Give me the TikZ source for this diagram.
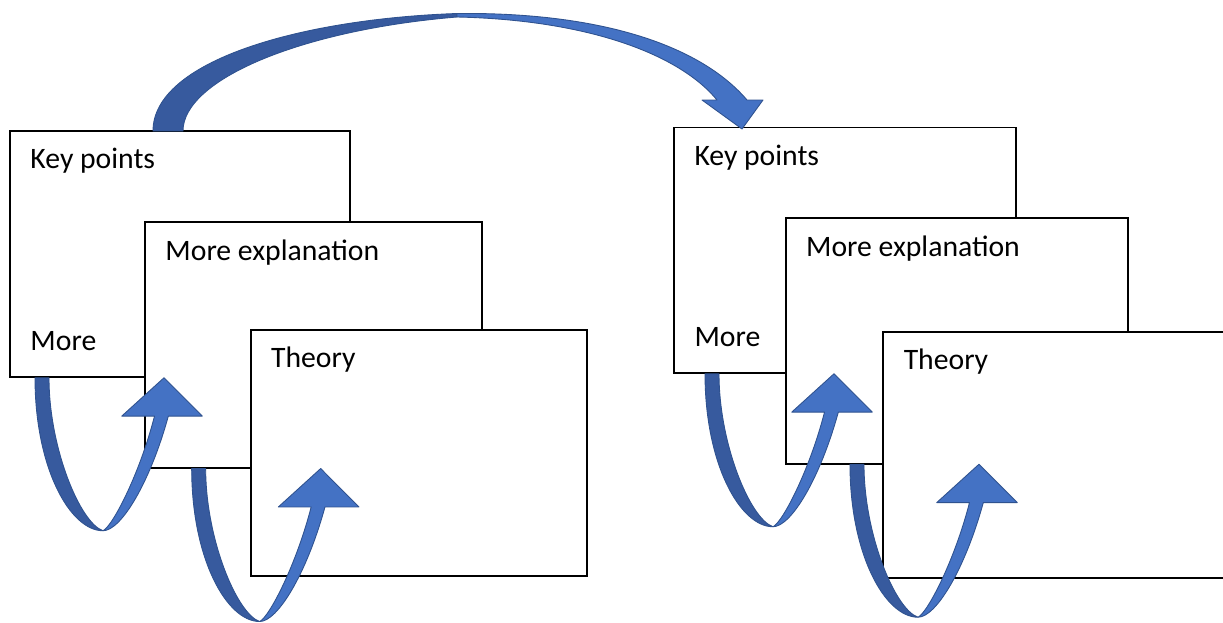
\documentclass[tikz,border=0pt]{standalone}
\usepackage{fontspec}
\setmainfont{Carlito}
\usetikzlibrary{positioning,calc}
\definecolor{arrowfront}{HTML}{4472C4}
\definecolor{arrowback}{HTML}{375A9E}
\definecolor{arrowedge}{HTML}{2F528F}

\tikzset{
  page/.style={rectangle, draw=black, fill=white, line width=1.1pt,
    inner sep=0pt, outer sep=0pt, minimum height=4.92cm},
  lbl/.style={inner sep=0pt, outer sep=0pt, text height=10.8pt, text depth=0pt,
    font=\fontsize{16.9}{20}\selectfont},
  front/.style={fill=arrowfront, draw=arrowedge, line width=0.5pt, line join=round},
  back/.style={fill=arrowback, draw=arrowedge, line width=0.5pt, line join=round},
  % u-turn arrow, origin = top left of the back leg
  uturn/.pic={
    \path[back] (0,0) .. controls (0,90) and (35,153) .. (68,153)
      .. controls (45,145) and (14,70) .. (14,0) -- cycle;
    \path[front] (68,153) .. controls (86,153) and (115,105) .. (133.3,38.4)
      -- (167.3,38.4) -- (129,0) -- (86.7,38.4) -- (119.5,38.4)
      .. controls (105,95) and (78,148) .. (68,153) -- cycle;
  },
  % big arc arrow, origin = left foot
  bigarc/.pic={
    \path[back] (0,0) .. controls (0,-70) and (147,-112) .. (304,-117.5)
      -- (304,-114) .. controls (147,-101) and (30,-51) .. (30,0) -- cycle;
    \path[front] (304,-117.5) .. controls (447,-119) and (547,-86) .. (594,-31)
      -- (610,-31) -- (589,-2) -- (549,-31) -- (564,-31)
      .. controls (527,-76) and (437,-111) .. (304,-114) -- cycle;
  }
}

\begin{document}
\begin{tikzpicture}[x=0.02cm, y=-0.02cm]
\useasboundingbox (0,0) rectangle (1223,622);

% left stack
\node[page, minimum width=6.8cm, anchor=north west] at (10,131) (kp1) {};
\node[page, minimum width=6.75cm, below right=1.826cm and 2.7cm of kp1.north west] (me1) {};
\node[page, minimum width=6.72cm, below right=2.154cm and 2.114cm of me1.north west] (th1) {};
\node[lbl, below right=3.8mm and 4.1mm of kp1.north west] (kp1txt) {Key points};
\node[lbl, above right=5.3mm and 4.1mm of kp1.south west] (mo1txt) {More};
\node[lbl, below right=3.8mm and 4.1mm of me1.north west] (me1txt) {More explanation};
\node[lbl, below right=3.8mm and 4.1mm of th1.north west] (th1txt) {Theory};

% right stack
\node[page, minimum width=6.85cm, anchor=north west] at (674,127.5) (kp2) {};
\node[page, minimum width=6.84cm, below right=1.816cm and 2.234cm of kp2.north west] (me2) {};
\node[page, minimum width=7cm, below right=2.268cm and 1.952cm of me2.north west] (th2) {};
\node[lbl, below right=3.8mm and 4.1mm of kp2.north west] (kp2txt) {Key points};
\node[lbl, above right=5.3mm and 4.1mm of kp2.south west] (mo2txt) {More};
\node[lbl, below right=3.8mm and 4.1mm of me2.north west] (me2txt) {More explanation};
\node[lbl, below right=3.8mm and 4.1mm of th2.north west] (th2txt) {Theory};

% arrows
\coordinate (a0) at ($(kp1.north west)+(143,0)$);
\coordinate (a1) at ($(kp1.south west)+(25,0.8)$);
\coordinate (a2) at ($(me1.south west)+(46.7,0.3)$);
\coordinate (a3) at ($(kp2.south west)+(31,0.3)$);
\coordinate (a4) at ($(me2.south west)+(64.3,0)$);
\pic at (a0) {bigarc};
\pic at (a1) {uturn};
\pic at (a2) {uturn};
\pic at (a3) {uturn};
\pic at (a4) {uturn};

\end{tikzpicture}
\end{document}
